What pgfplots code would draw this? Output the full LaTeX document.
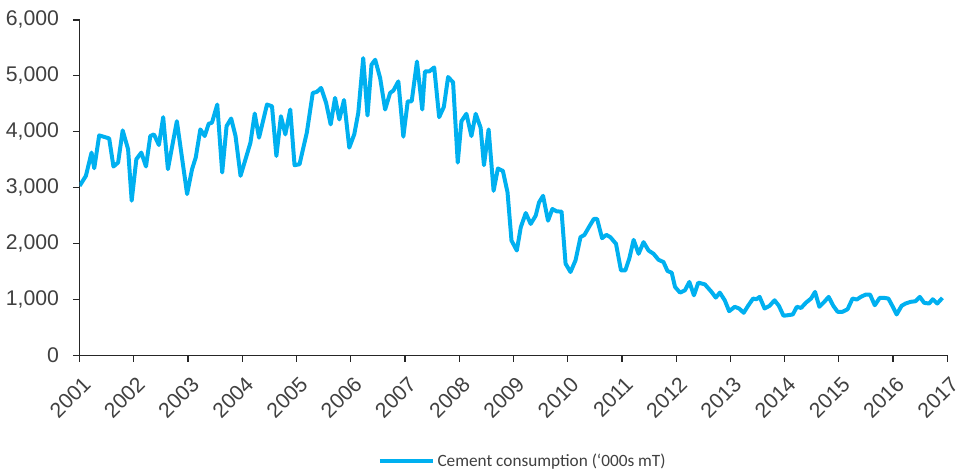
\documentclass[border=0pt]{standalone}
\usepackage{pgfplots}
\pgfplotsset{compat=1.18}
\usepackage{pgfplotstable}
\usepackage{fontspec}
\setmainfont{Liberation Sans}
\newfontfamily\legendfont{Carlito}
\definecolor{cement}{RGB}{0,176,240}
\definecolor{txt}{RGB}{64,64,64}

% monthly cement consumption ('000s mT)
\pgfplotstableread{
year     val
2001.000 3030
2001.116 3210
2001.220 3626
2001.270 3346
2001.361 3934
2001.545 3880
2001.624 3377
2001.710 3448
2001.794 4023
2001.894 3685
2001.960 2765
2002.046 3507
2002.138 3626
2002.224 3377
2002.303 3922
2002.371 3952
2002.462 3761
2002.541 4260
2002.628 3329
2002.793 4188
2002.982 2884
2003.073 3329
2003.141 3537
2003.226 4041
2003.306 3922
2003.380 4142
2003.440 4160
2003.538 4486
2003.629 3270
2003.710 4100
2003.794 4236
2003.875 3922
2003.967 3210
2004.059 3507
2004.150 3804
2004.229 4325
2004.308 3893
2004.455 4486
2004.547 4455
2004.628 3565
2004.712 4277
2004.793 3952
2004.884 4397
2004.963 3400
2005.055 3418
2005.189 3982
2005.299 4694
2005.372 4711
2005.453 4783
2005.545 4516
2005.629 4130
2005.710 4605
2005.789 4219
2005.875 4567
2005.972 3715
2006.064 3952
2006.138 4338
2006.229 5317
2006.308 4290
2006.382 5198
2006.450 5287
2006.541 4961
2006.633 4397
2006.725 4694
2006.785 4735
2006.877 4900
2006.969 3911
2007.050 4544
2007.123 4544
2007.220 5256
2007.318 4397
2007.367 5078
2007.446 5078
2007.538 5150
2007.629 4260
2007.716 4444
2007.794 4979
2007.886 4883
2007.972 3448
2008.040 4188
2008.132 4320
2008.224 3922
2008.303 4320
2008.394 4071
2008.455 3400
2008.541 4041
2008.633 2943
2008.712 3341
2008.804 3299
2008.890 2914
2008.963 2052
2009.061 1874
2009.134 2290
2009.226 2545
2009.317 2350
2009.409 2497
2009.471 2736
2009.545 2853
2009.637 2408
2009.716 2617
2009.794 2576
2009.886 2569
2009.960 1638
2010.051 1490
2010.143 1696
2010.235 2113
2010.308 2154
2010.407 2320
2010.481 2439
2010.541 2439
2010.633 2095
2010.712 2154
2010.786 2113
2010.890 1994
2010.982 1518
2011.061 1518
2011.134 1727
2011.215 2065
2011.306 1816
2011.398 2024
2011.490 1874
2011.582 1816
2011.673 1709
2011.765 1668
2011.839 1508
2011.917 1477
2011.978 1223
2012.070 1121
2012.161 1162
2012.242 1312
2012.327 1073
2012.407 1299
2012.528 1269
2012.651 1134
2012.730 1032
2012.804 1121
2012.895 984
2012.976 789
2013.079 867
2013.160 837
2013.244 760
2013.325 885
2013.417 1015
2013.477 1002
2013.538 1045
2013.629 837
2013.721 885
2013.813 984
2013.893 885
2013.978 707
2014.059 717
2014.150 730
2014.224 867
2014.303 847
2014.394 943
2014.486 1015
2014.560 1134
2014.639 867
2014.730 956
2014.811 1045
2014.896 885
2014.976 778
2015.068 778
2015.160 824
2015.251 1015
2015.330 997
2015.404 1045
2015.495 1086
2015.574 1086
2015.661 895
2015.752 1027
2015.831 1027
2015.912 1015
2015.994 867
2016.064 730
2016.156 885
2016.229 926
2016.321 956
2016.413 967
2016.492 1045
2016.571 938
2016.664 926
2016.730 1002
2016.813 926
2016.908 1027
}\cementdata

\begin{document}
\begin{tikzpicture}
% page frame: 958 x 476 px at 0.75pt per px, axis box at the origin
\useasboundingbox (-60pt,-89.25pt) rectangle (662pt,267.75pt);
\begin{axis}[
  name=ax, at={(0,0)}, anchor=south west,
  scale only axis, width=654pt, height=252.75pt,
  xmin=2001, xmax=2017, ymin=0, ymax=6000,
  axis x line*=bottom, axis y line*=left,
  axis line style={black!85, line width=0.9pt},
  tick align=outside, major tick length=5pt, minor tick length=5pt,
  tick style={black!85, line width=0.9pt},
  xtick={2001,2002,...,2017}, minor x tick num=1,
  ytick={0,1000,...,6000},
  /pgf/number format/assume math mode=true,
  ticklabel style={font=\fontsize{16}{18}\selectfont, text=txt},
  xticklabel style={rotate=45, anchor=north east, inner sep=1pt,
    xshift=-5pt, yshift=-7pt, /pgf/number format/1000 sep={}},
  yticklabel style={/pgf/number format/1000 sep={,}, xshift=-7pt},
  legend style={draw=none, at={(0.511,-0.315)}, anchor=center,
    font=\legendfont\fontsize{13}{15}\selectfont, text=txt,
    inner sep=1pt},
  legend image code/.code={\draw[#1] (0pt,0pt) -- (40pt,0pt);},
]
\addplot[cement, line width=3pt, line join=round] table[x=year, y=val] {\cementdata};
\addlegendentry{Cement consumption (‘000s mT)}
\end{axis}
\end{tikzpicture}
\end{document}
